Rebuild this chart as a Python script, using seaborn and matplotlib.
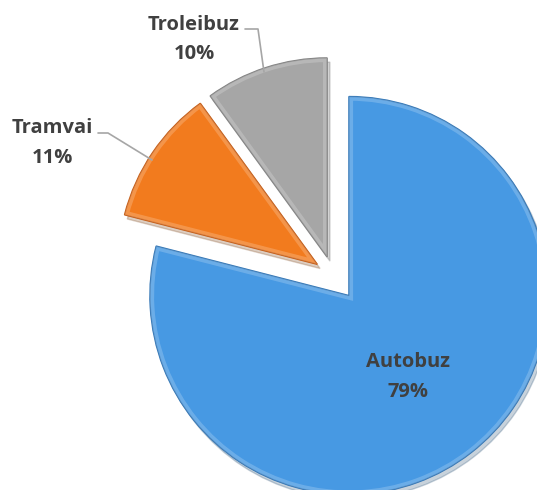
import matplotlib
matplotlib.use("Agg")
import matplotlib.pyplot as plt
import seaborn as sns
from matplotlib.patches import Wedge

# dados do gráfico
categorias = ["Autobuz", "Tramvai", "Troleibuz"]
valores = [79, 11, 10]
cores = ["#4799e3", "#f27b1e", "#a6a6a6"]
bordas = ["#2f74b5", "#c55a11", "#7f7f7f"]

sns.set_style("white")
plt.rcParams["font.family"] = ["Open Sans", "DejaVu Sans"]

W, H = 537, 490
fig = plt.figure(figsize=(W / 100, H / 100), dpi=100)
ax = fig.add_axes([0, 0, 1, 1])

centro = (333, H - 275)
raio = 199
explode = [26, 19, 19]

wedges, _ = ax.pie(valores, colors=cores, startangle=90, counterclock=False,
                   center=centro, radius=raio, explode=explode, frame=True,
                   shadow={"ox": 2, "oy": -3, "shade": 0.5, "alpha": 0.25},
                   wedgeprops=dict(linewidth=1.0))
for w, b in zip(wedges, bordas):
    w.set_edgecolor(b)
    # brilho interno para imitar o chanfro
    brilho = Wedge(w.center, w.r, w.theta1, w.theta2, facecolor="none",
                   edgecolor="white", lw=6, alpha=0.2)
    ax.add_patch(brilho)
    brilho.set_clip_path(w)

ax.set_xlim(0, W)
ax.set_ylim(0, H)
ax.set_aspect("equal", adjustable="box")
ax.axis("off")

cor_txt = "#404040"
fs = 14.5
# posições dos rótulos (x, baseline do nome, baseline do valor), em pixels a partir do topo
pos = {"Autobuz": (408, 367, 397), "Tramvai": (52, 133, 163), "Troleibuz": (194, 30, 59)}
for cat, v in zip(categorias, valores):
    x, y1, y2 = pos[cat]
    ax.text(x, H - y1, cat, ha="center", va="baseline", fontsize=fs,
            fontweight="bold", color=cor_txt)
    ax.text(x, H - y2, f"{v}%", ha="center", va="baseline", fontsize=fs,
            fontweight="bold", color=cor_txt)

# linhas de chamada
ax.plot([245, 258, 264], [H - 29, H - 29, H - 72], color="#a6a6a6", lw=1.2)
ax.plot([98, 108, 152], [H - 133, H - 133, H - 160], color="#a6a6a6", lw=1.2)

fig.savefig("out.png", dpi=100)
